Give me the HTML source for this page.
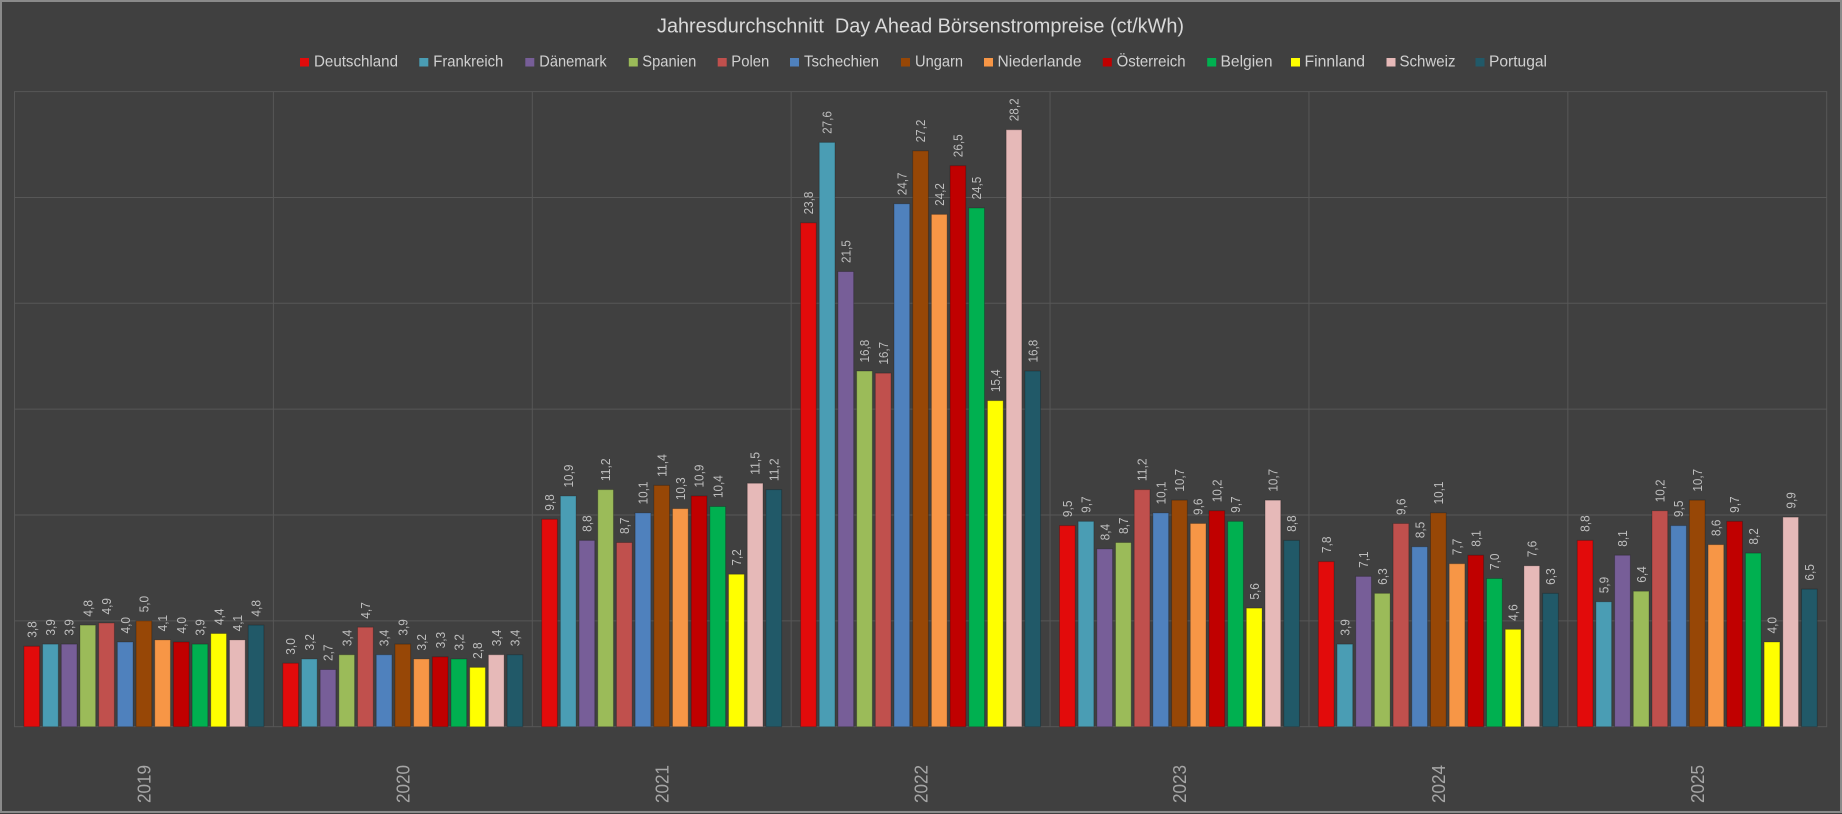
<!DOCTYPE html>
<html>
<head>
<meta charset="utf-8">
<style>
  html,body{margin:0;padding:0;background:#404040;}
  svg{display:block;}
  .t{font-family:"Liberation Sans",sans-serif;font-size:20px;fill:#d9d9d9;white-space:pre;}
  .lg{font-family:"Liberation Sans",sans-serif;font-size:16px;fill:#d0d0d0;}
  .l text{font-family:"Liberation Sans",sans-serif;font-size:13px;fill:#bfbfbf;}
  .yr{font-family:"Liberation Sans",sans-serif;font-size:18.5px;fill:#a6a6a6;}
  .b rect{stroke:rgba(0,0,0,0.22);stroke-width:1;vector-effect:non-scaling-stroke;}
  .c0{fill:#E20B0B}.c1{fill:#4A9DB4}.c2{fill:#775E98}.c3{fill:#9BBB59}.c4{fill:#C0504D}
  .c5{fill:#4F81BD}.c6{fill:#974706}.c7{fill:#F79646}.c8{fill:#C00000}.c9{fill:#00B050}
  .c10{fill:#FFFF00}.c11{fill:#E6B9B8}.c12{fill:#215968}
</style>
</head>
<body>
<svg width="1842" height="814" viewBox="0 0 1842 814" xmlns="http://www.w3.org/2000/svg">
  <rect x="0" y="0" width="1842" height="814" fill="#404040"/>
  <rect x="1" y="1" width="1840" height="811" fill="none" stroke="#8a8a8a" stroke-width="2"/>

  <!-- title -->
  <text class="t" x="657" y="32.5" textLength="527" lengthAdjust="spacingAndGlyphs">Jahresdurchschnitt  Day Ahead Börsenstrompreise (ct/kWh)</text>

  <!-- legend -->
  <g>
    <rect class="c0" x="300" y="58" width="9" height="8.5"/><text class="lg" x="314" y="66.3" textLength="84" lengthAdjust="spacingAndGlyphs">Deutschland</text>
    <rect class="c1" x="419.3" y="58" width="9" height="8.5"/><text class="lg" x="433.3" y="66.3" textLength="70" lengthAdjust="spacingAndGlyphs">Frankreich</text>
    <rect class="c2" x="525.3" y="58" width="9" height="8.5"/><text class="lg" x="539.3" y="66.3" textLength="67.4" lengthAdjust="spacingAndGlyphs">Dänemark</text>
    <rect class="c3" x="628.8" y="58" width="9" height="8.5"/><text class="lg" x="642.3" y="66.3" textLength="54" lengthAdjust="spacingAndGlyphs">Spanien</text>
    <rect class="c4" x="717.7" y="58" width="9" height="8.5"/><text class="lg" x="731.3" y="66.3" textLength="38" lengthAdjust="spacingAndGlyphs">Polen</text>
    <rect class="c5" x="790" y="58" width="9" height="8.5"/><text class="lg" x="804" y="66.3" textLength="75" lengthAdjust="spacingAndGlyphs">Tschechien</text>
    <rect class="c6" x="901" y="58" width="9" height="8.5"/><text class="lg" x="915" y="66.3" textLength="48" lengthAdjust="spacingAndGlyphs">Ungarn</text>
    <rect class="c7" x="984" y="58" width="9" height="8.5"/><text class="lg" x="997.5" y="66.3" textLength="84" lengthAdjust="spacingAndGlyphs">Niederlande</text>
    <rect class="c8" x="1102.8" y="58" width="9" height="8.5"/><text class="lg" x="1116.6" y="66.3" textLength="69" lengthAdjust="spacingAndGlyphs">Österreich</text>
    <rect class="c9" x="1207.2" y="58" width="9" height="8.5"/><text class="lg" x="1220.5" y="66.3" textLength="52" lengthAdjust="spacingAndGlyphs">Belgien</text>
    <rect class="c10" x="1291" y="58" width="9" height="8.5"/><text class="lg" x="1304.5" y="66.3" textLength="60.5" lengthAdjust="spacingAndGlyphs">Finnland</text>
    <rect class="c11" x="1386.5" y="58" width="9" height="8.5"/><text class="lg" x="1399.5" y="66.3" textLength="56" lengthAdjust="spacingAndGlyphs">Schweiz</text>
    <rect class="c12" x="1475.5" y="58" width="9" height="8.5"/><text class="lg" x="1489" y="66.3" textLength="58" lengthAdjust="spacingAndGlyphs">Portugal</text>
  </g>

  <!-- grid -->
  <g stroke="#575757" stroke-width="1" fill="none">
    <rect x="14.5" y="91.6" width="1812.2" height="635.1"/>
    <line x1="14.5" y1="620.85" x2="1826.7" y2="620.85"/>
    <line x1="14.5" y1="515" x2="1826.7" y2="515"/>
    <line x1="14.5" y1="409.15" x2="1826.7" y2="409.15"/>
    <line x1="14.5" y1="303.3" x2="1826.7" y2="303.3"/>
    <line x1="14.5" y1="197.45" x2="1826.7" y2="197.45"/>
    <line x1="273.39" y1="91.6" x2="273.39" y2="726.7"/>
    <line x1="532.28" y1="91.6" x2="532.28" y2="726.7"/>
    <line x1="791.17" y1="91.6" x2="791.17" y2="726.7"/>
    <line x1="1050.06" y1="91.6" x2="1050.06" y2="726.7"/>
    <line x1="1308.95" y1="91.6" x2="1308.95" y2="726.7"/>
    <line x1="1567.84" y1="91.6" x2="1567.84" y2="726.7"/>
  </g>

  <!-- 2019 -->
  <g transform="translate(14.5,0)">
    <g class="b" transform="translate(0,726.7) scale(1,-21.17)">
      <rect class="c0" x="9.4" y="0" width="15.7" height="3.8"/>
      <rect class="c1" x="28.09" y="0" width="15.7" height="3.9"/>
      <rect class="c2" x="46.78" y="0" width="15.7" height="3.9"/>
      <rect class="c3" x="65.47" y="0" width="15.7" height="4.8"/>
      <rect class="c4" x="84.16" y="0" width="15.7" height="4.9"/>
      <rect class="c5" x="102.85" y="0" width="15.7" height="4.0"/>
      <rect class="c6" x="121.54" y="0" width="15.7" height="5.0"/>
      <rect class="c7" x="140.23" y="0" width="15.7" height="4.1"/>
      <rect class="c8" x="158.92" y="0" width="15.7" height="4.0"/>
      <rect class="c9" x="177.61" y="0" width="15.7" height="3.9"/>
      <rect class="c10" x="196.3" y="0" width="15.7" height="4.4"/>
      <rect class="c11" x="214.99" y="0" width="15.7" height="4.1"/>
      <rect class="c12" x="233.68" y="0" width="15.7" height="4.8"/>
    </g>
    <g class="l">
      <text transform="translate(21.85 637.75) rotate(-90)" textLength="16.5" lengthAdjust="spacingAndGlyphs">3,8</text>
      <text transform="translate(40.54 635.64) rotate(-90)" textLength="16.5" lengthAdjust="spacingAndGlyphs">3,9</text>
      <text transform="translate(59.23 635.64) rotate(-90)" textLength="16.5" lengthAdjust="spacingAndGlyphs">3,9</text>
      <text transform="translate(77.92 616.58) rotate(-90)" textLength="16.5" lengthAdjust="spacingAndGlyphs">4,8</text>
      <text transform="translate(96.61 614.47) rotate(-90)" textLength="16.5" lengthAdjust="spacingAndGlyphs">4,9</text>
      <text transform="translate(115.30 633.52) rotate(-90)" textLength="16.5" lengthAdjust="spacingAndGlyphs">4,0</text>
      <text transform="translate(133.99 612.35) rotate(-90)" textLength="16.5" lengthAdjust="spacingAndGlyphs">5,0</text>
      <text transform="translate(152.68 631.40) rotate(-90)" textLength="16.5" lengthAdjust="spacingAndGlyphs">4,1</text>
      <text transform="translate(171.37 633.52) rotate(-90)" textLength="16.5" lengthAdjust="spacingAndGlyphs">4,0</text>
      <text transform="translate(190.06 635.64) rotate(-90)" textLength="16.5" lengthAdjust="spacingAndGlyphs">3,9</text>
      <text transform="translate(208.75 625.05) rotate(-90)" textLength="16.5" lengthAdjust="spacingAndGlyphs">4,4</text>
      <text transform="translate(227.44 631.40) rotate(-90)" textLength="16.5" lengthAdjust="spacingAndGlyphs">4,1</text>
      <text transform="translate(246.13 616.58) rotate(-90)" textLength="16.5" lengthAdjust="spacingAndGlyphs">4,8</text>
    </g>
    <text class="yr" text-anchor="middle" transform="translate(136.14 784) rotate(-90)" textLength="38" lengthAdjust="spacingAndGlyphs">2019</text>
  </g>

  <!-- 2020 -->
  <g transform="translate(273.39,0)">
    <g class="b" transform="translate(0,726.7) scale(1,-21.17)">
      <rect class="c0" x="9.4" y="0" width="15.7" height="3.0"/>
      <rect class="c1" x="28.09" y="0" width="15.7" height="3.2"/>
      <rect class="c2" x="46.78" y="0" width="15.7" height="2.7"/>
      <rect class="c3" x="65.47" y="0" width="15.7" height="3.4"/>
      <rect class="c4" x="84.16" y="0" width="15.7" height="4.7"/>
      <rect class="c5" x="102.85" y="0" width="15.7" height="3.4"/>
      <rect class="c6" x="121.54" y="0" width="15.7" height="3.9"/>
      <rect class="c7" x="140.23" y="0" width="15.7" height="3.2"/>
      <rect class="c8" x="158.92" y="0" width="15.7" height="3.3"/>
      <rect class="c9" x="177.61" y="0" width="15.7" height="3.2"/>
      <rect class="c10" x="196.3" y="0" width="15.7" height="2.8"/>
      <rect class="c11" x="214.99" y="0" width="15.7" height="3.4"/>
      <rect class="c12" x="233.68" y="0" width="15.7" height="3.4"/>
    </g>
    <g class="l">
      <text transform="translate(21.85 654.69) rotate(-90)" textLength="16.5" lengthAdjust="spacingAndGlyphs">3,0</text>
      <text transform="translate(40.54 650.46) rotate(-90)" textLength="16.5" lengthAdjust="spacingAndGlyphs">3,2</text>
      <text transform="translate(59.23 661.04) rotate(-90)" textLength="16.5" lengthAdjust="spacingAndGlyphs">2,7</text>
      <text transform="translate(77.92 646.22) rotate(-90)" textLength="16.5" lengthAdjust="spacingAndGlyphs">3,4</text>
      <text transform="translate(96.61 618.70) rotate(-90)" textLength="16.5" lengthAdjust="spacingAndGlyphs">4,7</text>
      <text transform="translate(115.30 646.22) rotate(-90)" textLength="16.5" lengthAdjust="spacingAndGlyphs">3,4</text>
      <text transform="translate(133.99 635.64) rotate(-90)" textLength="16.5" lengthAdjust="spacingAndGlyphs">3,9</text>
      <text transform="translate(152.68 650.46) rotate(-90)" textLength="16.5" lengthAdjust="spacingAndGlyphs">3,2</text>
      <text transform="translate(171.37 648.34) rotate(-90)" textLength="16.5" lengthAdjust="spacingAndGlyphs">3,3</text>
      <text transform="translate(190.06 650.46) rotate(-90)" textLength="16.5" lengthAdjust="spacingAndGlyphs">3,2</text>
      <text transform="translate(208.75 658.92) rotate(-90)" textLength="16.5" lengthAdjust="spacingAndGlyphs">2,8</text>
      <text transform="translate(227.44 646.22) rotate(-90)" textLength="16.5" lengthAdjust="spacingAndGlyphs">3,4</text>
      <text transform="translate(246.13 646.22) rotate(-90)" textLength="16.5" lengthAdjust="spacingAndGlyphs">3,4</text>
    </g>
    <text class="yr" text-anchor="middle" transform="translate(136.14 784) rotate(-90)" textLength="38" lengthAdjust="spacingAndGlyphs">2020</text>
  </g>

  <!-- 2021 -->
  <g transform="translate(532.28,0)">
    <g class="b" transform="translate(0,726.7) scale(1,-21.17)">
      <rect class="c0" x="9.4" y="0" width="15.7" height="9.8"/>
      <rect class="c1" x="28.09" y="0" width="15.7" height="10.9"/>
      <rect class="c2" x="46.78" y="0" width="15.7" height="8.8"/>
      <rect class="c3" x="65.47" y="0" width="15.7" height="11.2"/>
      <rect class="c4" x="84.16" y="0" width="15.7" height="8.7"/>
      <rect class="c5" x="102.85" y="0" width="15.7" height="10.1"/>
      <rect class="c6" x="121.54" y="0" width="15.7" height="11.4"/>
      <rect class="c7" x="140.23" y="0" width="15.7" height="10.3"/>
      <rect class="c8" x="158.92" y="0" width="15.7" height="10.9"/>
      <rect class="c9" x="177.61" y="0" width="15.7" height="10.4"/>
      <rect class="c10" x="196.3" y="0" width="15.7" height="7.2"/>
      <rect class="c11" x="214.99" y="0" width="15.7" height="11.5"/>
      <rect class="c12" x="233.68" y="0" width="15.7" height="11.2"/>
    </g>
    <g class="l">
      <text transform="translate(21.85 510.73) rotate(-90)" textLength="16.5" lengthAdjust="spacingAndGlyphs">9,8</text>
      <text transform="translate(40.54 487.45) rotate(-90)" textLength="22.8" lengthAdjust="spacingAndGlyphs">10,9</text>
      <text transform="translate(59.23 531.90) rotate(-90)" textLength="16.5" lengthAdjust="spacingAndGlyphs">8,8</text>
      <text transform="translate(77.92 481.10) rotate(-90)" textLength="22.8" lengthAdjust="spacingAndGlyphs">11,2</text>
      <text transform="translate(96.61 534.02) rotate(-90)" textLength="16.5" lengthAdjust="spacingAndGlyphs">8,7</text>
      <text transform="translate(115.30 504.38) rotate(-90)" textLength="22.8" lengthAdjust="spacingAndGlyphs">10,1</text>
      <text transform="translate(133.99 476.86) rotate(-90)" textLength="22.8" lengthAdjust="spacingAndGlyphs">11,4</text>
      <text transform="translate(152.68 500.15) rotate(-90)" textLength="22.8" lengthAdjust="spacingAndGlyphs">10,3</text>
      <text transform="translate(171.37 487.45) rotate(-90)" textLength="22.8" lengthAdjust="spacingAndGlyphs">10,9</text>
      <text transform="translate(190.06 498.03) rotate(-90)" textLength="22.8" lengthAdjust="spacingAndGlyphs">10,4</text>
      <text transform="translate(208.75 565.78) rotate(-90)" textLength="16.5" lengthAdjust="spacingAndGlyphs">7,2</text>
      <text transform="translate(227.44 474.74) rotate(-90)" textLength="22.8" lengthAdjust="spacingAndGlyphs">11,5</text>
      <text transform="translate(246.13 481.10) rotate(-90)" textLength="22.8" lengthAdjust="spacingAndGlyphs">11,2</text>
    </g>
    <text class="yr" text-anchor="middle" transform="translate(136.14 784) rotate(-90)" textLength="38" lengthAdjust="spacingAndGlyphs">2021</text>
  </g>

  <!-- 2022 -->
  <g transform="translate(791.17,0)">
    <g class="b" transform="translate(0,726.7) scale(1,-21.17)">
      <rect class="c0" x="9.4" y="0" width="15.7" height="23.8"/>
      <rect class="c1" x="28.09" y="0" width="15.7" height="27.6"/>
      <rect class="c2" x="46.78" y="0" width="15.7" height="21.5"/>
      <rect class="c3" x="65.47" y="0" width="15.7" height="16.8"/>
      <rect class="c4" x="84.16" y="0" width="15.7" height="16.7"/>
      <rect class="c5" x="102.85" y="0" width="15.7" height="24.7"/>
      <rect class="c6" x="121.54" y="0" width="15.7" height="27.2"/>
      <rect class="c7" x="140.23" y="0" width="15.7" height="24.2"/>
      <rect class="c8" x="158.92" y="0" width="15.7" height="26.5"/>
      <rect class="c9" x="177.61" y="0" width="15.7" height="24.5"/>
      <rect class="c10" x="196.3" y="0" width="15.7" height="15.4"/>
      <rect class="c11" x="214.99" y="0" width="15.7" height="28.2"/>
      <rect class="c12" x="233.68" y="0" width="15.7" height="16.8"/>
    </g>
    <g class="l">
      <text transform="translate(21.85 214.35) rotate(-90)" textLength="22.8" lengthAdjust="spacingAndGlyphs">23,8</text>
      <text transform="translate(40.54 133.91) rotate(-90)" textLength="22.8" lengthAdjust="spacingAndGlyphs">27,6</text>
      <text transform="translate(59.23 263.04) rotate(-90)" textLength="22.8" lengthAdjust="spacingAndGlyphs">21,5</text>
      <text transform="translate(77.92 362.54) rotate(-90)" textLength="22.8" lengthAdjust="spacingAndGlyphs">16,8</text>
      <text transform="translate(96.61 364.66) rotate(-90)" textLength="22.8" lengthAdjust="spacingAndGlyphs">16,7</text>
      <text transform="translate(115.30 195.30) rotate(-90)" textLength="22.8" lengthAdjust="spacingAndGlyphs">24,7</text>
      <text transform="translate(133.99 142.38) rotate(-90)" textLength="22.8" lengthAdjust="spacingAndGlyphs">27,2</text>
      <text transform="translate(152.68 205.89) rotate(-90)" textLength="22.8" lengthAdjust="spacingAndGlyphs">24,2</text>
      <text transform="translate(171.37 157.19) rotate(-90)" textLength="22.8" lengthAdjust="spacingAndGlyphs">26,5</text>
      <text transform="translate(190.06 199.53) rotate(-90)" textLength="22.8" lengthAdjust="spacingAndGlyphs">24,5</text>
      <text transform="translate(208.75 392.18) rotate(-90)" textLength="22.8" lengthAdjust="spacingAndGlyphs">15,4</text>
      <text transform="translate(227.44 121.20) rotate(-90)" textLength="22.8" lengthAdjust="spacingAndGlyphs">28,2</text>
      <text transform="translate(246.13 362.54) rotate(-90)" textLength="22.8" lengthAdjust="spacingAndGlyphs">16,8</text>
    </g>
    <text class="yr" text-anchor="middle" transform="translate(136.14 784) rotate(-90)" textLength="38" lengthAdjust="spacingAndGlyphs">2022</text>
  </g>

  <!-- 2023 -->
  <g transform="translate(1050.06,0)">
    <g class="b" transform="translate(0,726.7) scale(1,-21.17)">
      <rect class="c0" x="9.4" y="0" width="15.7" height="9.5"/>
      <rect class="c1" x="28.09" y="0" width="15.7" height="9.7"/>
      <rect class="c2" x="46.78" y="0" width="15.7" height="8.4"/>
      <rect class="c3" x="65.47" y="0" width="15.7" height="8.7"/>
      <rect class="c4" x="84.16" y="0" width="15.7" height="11.2"/>
      <rect class="c5" x="102.85" y="0" width="15.7" height="10.1"/>
      <rect class="c6" x="121.54" y="0" width="15.7" height="10.7"/>
      <rect class="c7" x="140.23" y="0" width="15.7" height="9.6"/>
      <rect class="c8" x="158.92" y="0" width="15.7" height="10.2"/>
      <rect class="c9" x="177.61" y="0" width="15.7" height="9.7"/>
      <rect class="c10" x="196.3" y="0" width="15.7" height="5.6"/>
      <rect class="c11" x="214.99" y="0" width="15.7" height="10.7"/>
      <rect class="c12" x="233.68" y="0" width="15.7" height="8.8"/>
    </g>
    <g class="l">
      <text transform="translate(21.85 517.08) rotate(-90)" textLength="16.5" lengthAdjust="spacingAndGlyphs">9,5</text>
      <text transform="translate(40.54 512.85) rotate(-90)" textLength="16.5" lengthAdjust="spacingAndGlyphs">9,7</text>
      <text transform="translate(59.23 540.37) rotate(-90)" textLength="16.5" lengthAdjust="spacingAndGlyphs">8,4</text>
      <text transform="translate(77.92 534.02) rotate(-90)" textLength="16.5" lengthAdjust="spacingAndGlyphs">8,7</text>
      <text transform="translate(96.61 481.10) rotate(-90)" textLength="22.8" lengthAdjust="spacingAndGlyphs">11,2</text>
      <text transform="translate(115.30 504.38) rotate(-90)" textLength="22.8" lengthAdjust="spacingAndGlyphs">10,1</text>
      <text transform="translate(133.99 491.68) rotate(-90)" textLength="22.8" lengthAdjust="spacingAndGlyphs">10,7</text>
      <text transform="translate(152.68 514.97) rotate(-90)" textLength="16.5" lengthAdjust="spacingAndGlyphs">9,6</text>
      <text transform="translate(171.37 502.27) rotate(-90)" textLength="22.8" lengthAdjust="spacingAndGlyphs">10,2</text>
      <text transform="translate(190.06 512.85) rotate(-90)" textLength="16.5" lengthAdjust="spacingAndGlyphs">9,7</text>
      <text transform="translate(208.75 599.65) rotate(-90)" textLength="16.5" lengthAdjust="spacingAndGlyphs">5,6</text>
      <text transform="translate(227.44 491.68) rotate(-90)" textLength="22.8" lengthAdjust="spacingAndGlyphs">10,7</text>
      <text transform="translate(246.13 531.90) rotate(-90)" textLength="16.5" lengthAdjust="spacingAndGlyphs">8,8</text>
    </g>
    <text class="yr" text-anchor="middle" transform="translate(136.14 784) rotate(-90)" textLength="38" lengthAdjust="spacingAndGlyphs">2023</text>
  </g>

  <!-- 2024 -->
  <g transform="translate(1308.95,0)">
    <g class="b" transform="translate(0,726.7) scale(1,-21.17)">
      <rect class="c0" x="9.4" y="0" width="15.7" height="7.8"/>
      <rect class="c1" x="28.09" y="0" width="15.7" height="3.9"/>
      <rect class="c2" x="46.78" y="0" width="15.7" height="7.1"/>
      <rect class="c3" x="65.47" y="0" width="15.7" height="6.3"/>
      <rect class="c4" x="84.16" y="0" width="15.7" height="9.6"/>
      <rect class="c5" x="102.85" y="0" width="15.7" height="8.5"/>
      <rect class="c6" x="121.54" y="0" width="15.7" height="10.1"/>
      <rect class="c7" x="140.23" y="0" width="15.7" height="7.7"/>
      <rect class="c8" x="158.92" y="0" width="15.7" height="8.1"/>
      <rect class="c9" x="177.61" y="0" width="15.7" height="7.0"/>
      <rect class="c10" x="196.3" y="0" width="15.7" height="4.6"/>
      <rect class="c11" x="214.99" y="0" width="15.7" height="7.6"/>
      <rect class="c12" x="233.68" y="0" width="15.7" height="6.3"/>
    </g>
    <g class="l">
      <text transform="translate(21.85 553.07) rotate(-90)" textLength="16.5" lengthAdjust="spacingAndGlyphs">7,8</text>
      <text transform="translate(40.54 635.64) rotate(-90)" textLength="16.5" lengthAdjust="spacingAndGlyphs">3,9</text>
      <text transform="translate(59.23 567.89) rotate(-90)" textLength="16.5" lengthAdjust="spacingAndGlyphs">7,1</text>
      <text transform="translate(77.92 584.83) rotate(-90)" textLength="16.5" lengthAdjust="spacingAndGlyphs">6,3</text>
      <text transform="translate(96.61 514.97) rotate(-90)" textLength="16.5" lengthAdjust="spacingAndGlyphs">9,6</text>
      <text transform="translate(115.30 538.25) rotate(-90)" textLength="16.5" lengthAdjust="spacingAndGlyphs">8,5</text>
      <text transform="translate(133.99 504.38) rotate(-90)" textLength="22.8" lengthAdjust="spacingAndGlyphs">10,1</text>
      <text transform="translate(152.68 555.19) rotate(-90)" textLength="16.5" lengthAdjust="spacingAndGlyphs">7,7</text>
      <text transform="translate(171.37 546.72) rotate(-90)" textLength="16.5" lengthAdjust="spacingAndGlyphs">8,1</text>
      <text transform="translate(190.06 570.01) rotate(-90)" textLength="16.5" lengthAdjust="spacingAndGlyphs">7,0</text>
      <text transform="translate(208.75 620.82) rotate(-90)" textLength="16.5" lengthAdjust="spacingAndGlyphs">4,6</text>
      <text transform="translate(227.44 557.31) rotate(-90)" textLength="16.5" lengthAdjust="spacingAndGlyphs">7,6</text>
      <text transform="translate(246.13 584.83) rotate(-90)" textLength="16.5" lengthAdjust="spacingAndGlyphs">6,3</text>
    </g>
    <text class="yr" text-anchor="middle" transform="translate(136.14 784) rotate(-90)" textLength="38" lengthAdjust="spacingAndGlyphs">2024</text>
  </g>

  <!-- 2025 -->
  <g transform="translate(1567.84,0)">
    <g class="b" transform="translate(0,726.7) scale(1,-21.17)">
      <rect class="c0" x="9.4" y="0" width="15.7" height="8.8"/>
      <rect class="c1" x="28.09" y="0" width="15.7" height="5.9"/>
      <rect class="c2" x="46.78" y="0" width="15.7" height="8.1"/>
      <rect class="c3" x="65.47" y="0" width="15.7" height="6.4"/>
      <rect class="c4" x="84.16" y="0" width="15.7" height="10.2"/>
      <rect class="c5" x="102.85" y="0" width="15.7" height="9.5"/>
      <rect class="c6" x="121.54" y="0" width="15.7" height="10.7"/>
      <rect class="c7" x="140.23" y="0" width="15.7" height="8.6"/>
      <rect class="c8" x="158.92" y="0" width="15.7" height="9.7"/>
      <rect class="c9" x="177.61" y="0" width="15.7" height="8.2"/>
      <rect class="c10" x="196.3" y="0" width="15.7" height="4.0"/>
      <rect class="c11" x="214.99" y="0" width="15.7" height="9.9"/>
      <rect class="c12" x="233.68" y="0" width="15.7" height="6.5"/>
    </g>
    <g class="l">
      <text transform="translate(21.85 531.90) rotate(-90)" textLength="16.5" lengthAdjust="spacingAndGlyphs">8,8</text>
      <text transform="translate(40.54 593.30) rotate(-90)" textLength="16.5" lengthAdjust="spacingAndGlyphs">5,9</text>
      <text transform="translate(59.23 546.72) rotate(-90)" textLength="16.5" lengthAdjust="spacingAndGlyphs">8,1</text>
      <text transform="translate(77.92 582.71) rotate(-90)" textLength="16.5" lengthAdjust="spacingAndGlyphs">6,4</text>
      <text transform="translate(96.61 502.27) rotate(-90)" textLength="22.8" lengthAdjust="spacingAndGlyphs">10,2</text>
      <text transform="translate(115.30 517.08) rotate(-90)" textLength="16.5" lengthAdjust="spacingAndGlyphs">9,5</text>
      <text transform="translate(133.99 491.68) rotate(-90)" textLength="22.8" lengthAdjust="spacingAndGlyphs">10,7</text>
      <text transform="translate(152.68 536.14) rotate(-90)" textLength="16.5" lengthAdjust="spacingAndGlyphs">8,6</text>
      <text transform="translate(171.37 512.85) rotate(-90)" textLength="16.5" lengthAdjust="spacingAndGlyphs">9,7</text>
      <text transform="translate(190.06 544.61) rotate(-90)" textLength="16.5" lengthAdjust="spacingAndGlyphs">8,2</text>
      <text transform="translate(208.75 633.52) rotate(-90)" textLength="16.5" lengthAdjust="spacingAndGlyphs">4,0</text>
      <text transform="translate(227.44 508.62) rotate(-90)" textLength="16.5" lengthAdjust="spacingAndGlyphs">9,9</text>
      <text transform="translate(246.13 580.59) rotate(-90)" textLength="16.5" lengthAdjust="spacingAndGlyphs">6,5</text>
    </g>
    <text class="yr" text-anchor="middle" transform="translate(136.14 784) rotate(-90)" textLength="38" lengthAdjust="spacingAndGlyphs">2025</text>
  </g>
</svg>
</body>
</html>
